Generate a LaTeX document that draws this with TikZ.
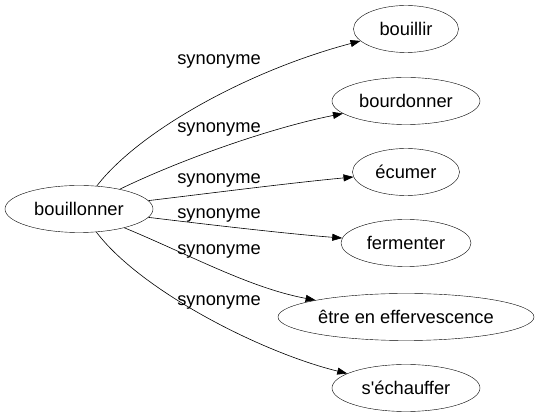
\documentclass[tikz,border=0pt]{standalone}
\usepackage{fontspec}
\setmainfont{Liberation Sans}
\usetikzlibrary{arrows.meta,shapes.geometric}
\begin{document}
\begin{tikzpicture}[x=1pt,y=-1pt,
  word/.style={draw,ellipse,inner sep=0pt,minimum height=47pt,font=\fontsize{18.3}{20}\selectfont},
  rel/.style={-{Triangle[length=10pt,width=7pt]},line width=0.6pt},
  lab/.style={font=\fontsize{18.3}{20}\selectfont}]
\useasboundingbox (0,0) rectangle (539,419);
\node[word,minimum width=148pt] (src) at (79,209) {bouillonner};
\node[word,minimum width=105pt] (a) at (406,29) {bouillir};
\node[word,minimum width=148pt] (b) at (406,101) {bourdonner};
\node[word,minimum width=107pt] (c) at (406,172) {écumer};
\node[word,minimum width=130pt] (d) at (406,243) {fermenter};
\node[word,minimum width=256pt] (e) at (406,317) {être en effervescence};
\node[word,minimum width=148pt] (f) at (406,388) {s\textquotesingle échauffer};
\draw[rel] (src) .. controls (140,130) and (250,70) .. (a);
\draw[rel] (src) .. controls (180,160) and (270,128) .. (b);
\draw[rel] (src) .. controls (220,192) and (290,183) .. (c);
\draw[rel] (src) .. controls (220,226) and (290,234) .. (d);
\draw[rel] (src) .. controls (190,255) and (250,288) .. (e);
\draw[rel] (src) .. controls (140,290) and (260,352) .. (f);
\node[lab] (l1) at (219,61) {synonyme};
\node[lab] (l2) at (219,129) {synonyme};
\node[lab] (l3) at (219,180) {synonyme};
\node[lab] (l4) at (219,215) {synonyme};
\node[lab] (l5) at (219,251) {synonyme};
\node[lab] (l6) at (219,302) {synonyme};
\end{tikzpicture}
\end{document}
